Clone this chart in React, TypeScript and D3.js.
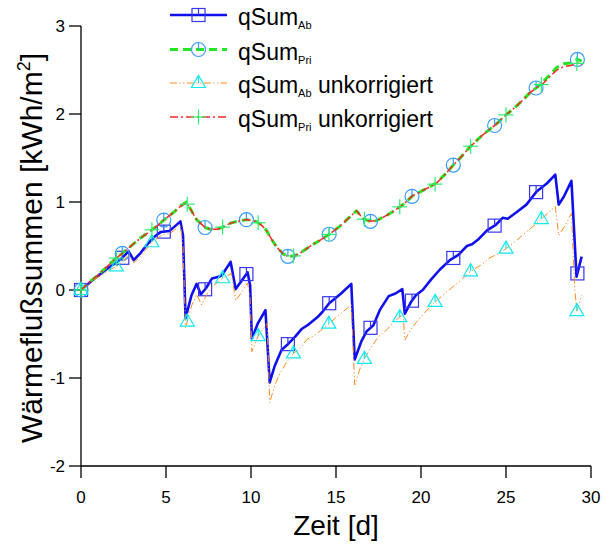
import React from "react";
import * as d3 from "d3";

type Pt = [number, number];

// Cumulative heat flux sums [kWh/m²] over time [d]
const qSumAb: Pt[] = [
  [0, 0], [0.8, 0.13], [1.6, 0.25], [2.4, 0.36], [2.8, 0.44], [3.1, 0.34], [3.5, 0.42],
  [3.9, 0.52], [4.35, 0.61], [4.7, 0.66], [5.2, 0.67], [5.5, 0.72], [5.85, 0.78], [6.0, 0.62],
  [6.15, -0.32], [6.5, -0.06], [6.8, 0.07], [7.05, -0.05], [7.35, 0.02], [7.7, 0.13],
  [8.1, 0.15], [8.3, 0.17], [8.8, 0.32], [9.1, 0.01], [9.5, 0.12], [9.8, 0.2], [9.95, 0.05],
  [10.05, -0.55], [10.4, -0.38], [10.85, -0.23], [11.1, -1.05], [11.4, -0.86], [11.8, -0.68],
  [12.2, -0.61], [12.6, -0.53], [13.0, -0.44], [13.4, -0.39], [13.9, -0.31], [14.2, -0.25],
  [14.6, -0.15], [15.3, -0.04], [15.9, 0.07], [16.1, -0.79], [16.5, -0.58], [16.8, -0.47],
  [17.2, -0.4], [17.6, -0.22], [18.1, -0.07], [18.5, -0.04], [18.9, 0.01], [19.05, -0.27],
  [19.4, -0.14], [19.7, -0.06], [20.1, 0.0], [20.6, 0.12], [21.1, 0.23], [21.7, 0.34],
  [22.2, 0.4], [22.7, 0.5], [23.0, 0.52], [23.4, 0.58], [23.9, 0.68], [24.4, 0.74],
  [24.8, 0.82], [25.1, 0.81], [25.6, 0.88], [26.2, 0.97], [26.8, 1.12], [27.4, 1.21],
  [27.9, 1.31], [28.1, 0.97], [28.4, 1.06], [28.85, 1.24], [29.15, 0.15], [29.45, 0.38],
];

const qSumPri: Pt[] = [
  [0, 0], [0.5, 0.09], [1, 0.17], [1.5, 0.26], [2, 0.35], [2.45, 0.42], [3, 0.51], [3.5, 0.59],
  [4, 0.66], [4.5, 0.73], [4.9, 0.8], [5.5, 0.89], [5.9, 0.96], [6.2, 1.0], [6.5, 0.9],
  [6.8, 0.8], [7.3, 0.71], [7.6, 0.69], [8.0, 0.69], [8.4, 0.72], [8.8, 0.76], [9.2, 0.78],
  [9.75, 0.8], [10.3, 0.78], [10.6, 0.74], [10.9, 0.68], [11.2, 0.58], [11.5, 0.49],
  [11.9, 0.41], [12.2, 0.38], [12.6, 0.39], [12.9, 0.42], [13.5, 0.5], [14.1, 0.57],
  [14.65, 0.64], [15.2, 0.72], [15.7, 0.81], [16.2, 0.9], [16.6, 0.81], [17.0, 0.78],
  [17.4, 0.79], [18.0, 0.85], [18.5, 0.91], [19.0, 0.98], [19.5, 1.07], [20.0, 1.12],
  [20.5, 1.17], [20.9, 1.22], [21.4, 1.31], [21.9, 1.42], [22.4, 1.52], [22.9, 1.63],
  [23.5, 1.74], [24.0, 1.82], [24.4, 1.88], [25.0, 1.99], [25.5, 2.07], [26.0, 2.16],
  [26.4, 2.24], [26.8, 2.3], [27.2, 2.37], [27.6, 2.45], [28.0, 2.53], [28.4, 2.57],
  [28.8, 2.58], [29.2, 2.62], [29.45, 2.6],
];

const qSumAbRaw: Pt[] = [
  [0, 0], [0.8, 0.12], [1.6, 0.22], [2.1, 0.27], [2.5, 0.33], [2.8, 0.4], [3.1, 0.31],
  [3.5, 0.38], [4.2, 0.55], [4.8, 0.63], [5.2, 0.64], [5.5, 0.68], [5.85, 0.74], [6.0, 0.5],
  [6.15, -0.43], [6.5, -0.18], [6.8, -0.05], [7.1, -0.17], [7.4, -0.05], [7.8, 0.05],
  [8.3, 0.13], [8.85, 0.19], [9.1, -0.12], [9.5, -0.01], [9.8, 0.08], [9.95, -0.1],
  [10.05, -0.7], [10.4, -0.53], [10.95, -0.38], [11.1, -1.28], [11.4, -1.08], [11.7, -0.95],
  [12.1, -0.82], [12.5, -0.72], [12.9, -0.66], [13.3, -0.56], [13.7, -0.52], [14.1, -0.46],
  [14.6, -0.38], [15.2, -0.28], [15.9, -0.17], [16.1, -1.08], [16.4, -0.9], [16.7, -0.77],
  [17.1, -0.64], [17.5, -0.53], [18.0, -0.45], [18.4, -0.36], [18.95, -0.28], [19.05, -0.57],
  [19.4, -0.45], [19.75, -0.36], [20.2, -0.26], [20.8, -0.14], [21.4, -0.04], [21.9, 0.04],
  [22.4, 0.12], [22.9, 0.21], [23.5, 0.28], [24.0, 0.36], [24.5, 0.41], [25.0, 0.47],
  [25.6, 0.56], [26.2, 0.66], [26.7, 0.74], [27.1, 0.81], [27.5, 0.88], [27.9, 0.95],
  [28.1, 0.62], [28.5, 0.74], [28.85, 0.87], [29.05, 0.0], [29.17, -0.24], [29.45, -0.06],
];

const qSumPriRaw: Pt[] = [
  [0, 0], [0.5, 0.09], [1, 0.17], [1.5, 0.26], [2, 0.35], [2.45, 0.42], [3, 0.51], [3.5, 0.59],
  [4, 0.66], [4.5, 0.73], [4.9, 0.8], [5.5, 0.89], [5.9, 0.96], [6.2, 0.99], [6.5, 0.9],
  [6.8, 0.8], [7.3, 0.71], [7.6, 0.69], [8.0, 0.69], [8.4, 0.72], [8.8, 0.76], [9.2, 0.78],
  [9.75, 0.8], [10.3, 0.78], [10.6, 0.74], [10.9, 0.68], [11.2, 0.58], [11.5, 0.49],
  [11.9, 0.41], [12.2, 0.38], [12.6, 0.39], [12.9, 0.42], [13.5, 0.5], [14.1, 0.57],
  [14.65, 0.64], [15.2, 0.72], [15.7, 0.81], [16.2, 0.9], [16.6, 0.81], [17.0, 0.78],
  [17.4, 0.79], [18.0, 0.85], [18.5, 0.91], [19.0, 0.98], [19.5, 1.07], [20.0, 1.12],
  [20.5, 1.17], [20.9, 1.21], [21.4, 1.31], [21.9, 1.42], [22.4, 1.52], [22.9, 1.63],
  [23.5, 1.74], [24.0, 1.82], [24.4, 1.88], [25.0, 1.99], [25.5, 2.07], [26.0, 2.16],
  [26.4, 2.24], [26.8, 2.3], [27.2, 2.35], [27.6, 2.43], [28.0, 2.5], [28.4, 2.54],
  [28.8, 2.55], [29.25, 2.58], [29.45, 2.56],
];

// Days carrying a marker symbol
const markerDaysCorr = [0, 2.43, 4.87, 7.3, 9.73, 12.17, 14.6, 17.03, 19.47, 21.9, 24.33, 26.77, 29.2];
const markerDaysRaw = [0, 2.08, 4.17, 6.25, 8.33, 10.42, 12.5, 14.58, 16.67, 18.75, 20.83, 22.92, 25, 27.08, 29.17];

const xTicks = [0, 5, 10, 15, 20, 25, 30];
const yTicks = [-2, -1, 0, 1, 2, 3];

const FONT = "'Liberation Sans', Arial, sans-serif";

type MarkerKind = "square" | "circle" | "triangle" | "plus";

interface Series {
  key: string;
  data: Pt[];
  markerDays: number[];
  color: string;
  width: number;
  dash?: string;
  marker: MarkerKind;
  markerColor: string;
  sub: string;
  suffix: string;
}

const series: Series[] = [
  { key: "ab", data: qSumAb, markerDays: markerDaysCorr, color: "#1010ee", width: 2.6, marker: "square", markerColor: "#3838f0", sub: "Ab", suffix: "" },
  { key: "pri", data: qSumPri, markerDays: markerDaysCorr, color: "#22e622", width: 3, dash: "8,5", marker: "circle", markerColor: "#3a9cff", sub: "Pri", suffix: "" },
  { key: "abRaw", data: qSumAbRaw, markerDays: markerDaysRaw, color: "#ff8a1e", width: 1, dash: "7,2.5,1.2,2.5,1.2,2.5", marker: "triangle", markerColor: "#12e8ee", sub: "Ab", suffix: " unkorrigiert" },
  { key: "priRaw", data: qSumPriRaw, markerDays: markerDaysRaw, color: "#ff2626", width: 1.5, dash: "8,3,2,3", marker: "plus", markerColor: "#2cf070", sub: "Pri", suffix: " unkorrigiert" },
];

function valueAt(data: Pt[], d: number): number {
  const i = d3.bisector((p: Pt) => p[0]).left(data, d);
  if (i <= 0) return data[0][1];
  if (i >= data.length) return data[data.length - 1][1];
  const a = data[i - 1];
  const b = data[i];
  const t = (d - a[0]) / (b[0] - a[0]);
  return a[1] + t * (b[1] - a[1]);
}

function Marker({ kind, x, y, color }: { kind: MarkerKind; x: number; y: number; color: string }) {
  const sw = 1.2;
  if (kind === "square") {
    const h = 6.5;
    return (
      <g stroke={color} strokeWidth={sw} fill="none">
        <rect x={x - h} y={y - h} width={2 * h} height={2 * h} />
        <line x1={x} y1={y - h} x2={x} y2={y} />
      </g>
    );
  }
  if (kind === "circle") {
    const r = 7;
    return (
      <g stroke={color} strokeWidth={sw} fill="none">
        <circle cx={x} cy={y} r={r} />
        <line x1={x} y1={y - r} x2={x} y2={y} />
      </g>
    );
  }
  if (kind === "triangle") {
    const w = 7;
    const top = y - 7.5;
    const bot = y + 4.5;
    return (
      <g stroke={color} strokeWidth={sw} fill="none">
        <path d={`M${x},${top}L${x + w},${bot}L${x - w},${bot}Z`} />
        <line x1={x} y1={top} x2={x} y2={y} />
      </g>
    );
  }
  const a = 7.5;
  return (
    <g stroke={color} strokeWidth={sw} fill="none">
      <line x1={x - a} y1={y} x2={x + a} y2={y} />
      <line x1={x} y1={y - a} x2={x} y2={y + a} />
    </g>
  );
}

export default function App() {
  const W = 603;
  const H = 547;
  const x = d3.scaleLinear().domain([0, 30]).range([81, 591]);
  const y = d3.scaleLinear().domain([-2, 3]).range([466, 26]);
  const line = d3
    .line<Pt>()
    .x((p) => x(p[0]))
    .y((p) => y(p[1]));

  const tickLen = 12;
  const legendRows = [15, 49.5, 83, 117];

  return (
    <svg
      width={W}
      height={H}
      viewBox={`0 0 ${W} ${H}`}
      style={{ position: "absolute", left: 0, top: 0, background: "#fff" }}
      fontFamily={FONT}
    >
      <rect width={W} height={H} fill="#fff" />

      {/* axes */}
      <g stroke="#000" strokeWidth={1.3} fill="none">
        <line x1={x(0)} y1={y(-2)} x2={x(30)} y2={y(-2)} />
        <line x1={x(0)} y1={y(-2)} x2={x(0)} y2={y(3)} />
        {xTicks.map((t) => (
          <line key={`xt${t}`} x1={x(t)} x2={x(t)} y1={y(-2)} y2={y(-2) + tickLen} />
        ))}
        {yTicks.map((t) => (
          <line key={`yt${t}`} x1={x(0) - tickLen} x2={x(0)} y1={y(t)} y2={y(t)} />
        ))}
      </g>
      <g fontSize={17} fill="#000">
        {xTicks.map((t) => (
          <text key={`xl${t}`} x={x(t)} y={503} textAnchor="middle">
            {t}
          </text>
        ))}
        {yTicks.map((t) => (
          <text key={`yl${t}`} x={65} y={y(t) + 6} textAnchor="end">
            {t}
          </text>
        ))}
      </g>

      {/* axis titles */}
      <text x={336} y={535} fontSize={28} textAnchor="middle" fill="#000">
        Zeit [d]
      </text>
      <text transform="translate(42,248) rotate(-90)" fontSize={30} textAnchor="middle" fill="#000">
        Wärmeflußsummen [kWh/m
        <tspan fontSize={18} dy={-12}>
          2
        </tspan>
        <tspan dy={12}>]</tspan>
      </text>

      {/* data series */}
      {series.map((s) => (
        <g key={s.key}>
          <path
            d={line(s.data) || ""}
            fill="none"
            stroke={s.color}
            strokeWidth={s.width}
            strokeDasharray={s.dash}
            strokeLinejoin="round"
          />
          {s.markerDays.map((d) => (
            <Marker key={d} kind={s.marker} x={x(d)} y={y(valueAt(s.data, d))} color={s.markerColor} />
          ))}
        </g>
      ))}

      {/* legend */}
      {series.map((s, i) => {
        const ly = legendRows[i];
        return (
          <g key={`lg${s.key}`}>
            <line
              x1={170}
              x2={227}
              y1={ly}
              y2={ly}
              stroke={s.color}
              strokeWidth={s.width}
              strokeDasharray={s.dash}
            />
            <Marker kind={s.marker} x={198.5} y={ly} color={s.markerColor} />
            <text x={238} y={ly + 10} fontSize={23} fill="#000">
              qSum
              <tspan fontSize={11} dy={4}>
                {s.sub}
              </tspan>
              {s.suffix ? <tspan dy={-4}>{s.suffix}</tspan> : null}
            </text>
          </g>
        );
      })}
    </svg>
  );
}
